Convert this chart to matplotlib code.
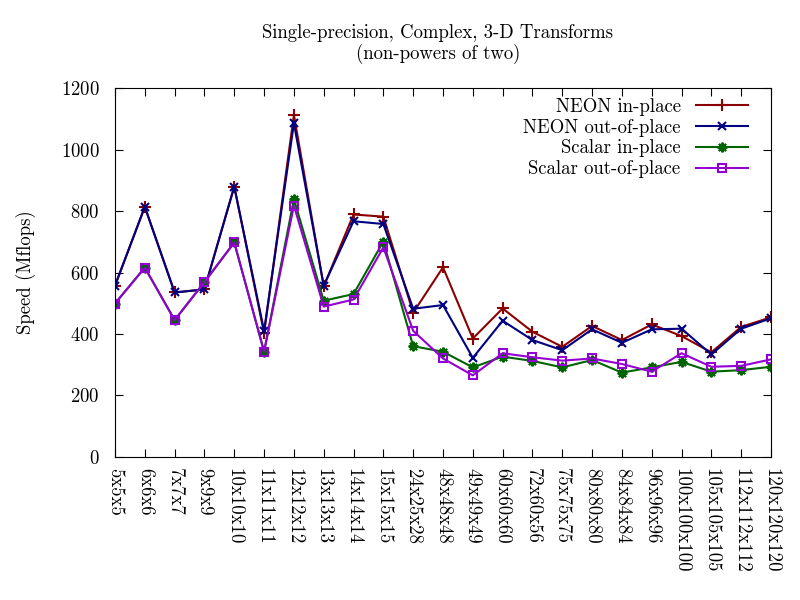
import numpy as np
import matplotlib
matplotlib.use('Agg')
import matplotlib.pyplot as plt

plt.rcParams['font.family'] = ['cmr10', 'DejaVu Serif']
plt.rcParams['axes.formatter.use_mathtext'] = True

# Data (Mflops)
sizes = ['5x5x5', '6x6x6', '7x7x7', '9x9x9', '10x10x10', '11x11x11', '12x12x12',
         '13x13x13', '14x14x14', '15x15x15', '24x25x28', '48x48x48', '49x49x49',
         '60x60x60', '72x60x56', '75x75x75', '80x80x80', '84x84x84', '96x96x96',
         '100x100x100', '105x105x105', '112x112x112', '120x120x120']
neon_in = [557, 814, 535, 545, 880, 402, 1113, 555, 789, 782, 469, 617, 385,
           483, 407, 358, 426, 380, 431, 393, 340, 423, 454]
neon_out = [557, 814, 535, 545, 880, 410, 1086, 557, 767, 758, 482, 494, 322,
            443, 380, 347, 415, 371, 415, 417, 333, 417, 451]
scalar_in = [499, 616, 445, 569, 698, 342, 839, 508, 530, 701, 360, 342, 291,
             326, 312, 291, 315, 274, 291, 309, 277, 282, 293]
scalar_out = [499, 616, 445, 569, 698, 342, 818, 489, 512, 682, 410, 320, 265,
              337, 324, 313, 320, 302, 277, 337, 293, 296, 317]

x = np.arange(len(sizes))
fs = 13.5

fig = plt.figure(figsize=(8, 6), dpi=100)
ax = fig.add_axes([0.14375, 0.2388, 0.82, 0.614])

ax.plot(x, neon_in, color='#8b0000', lw=1.5, marker='+', ms=8, mew=1.5,
        label='NEON in-place')
ax.plot(x, neon_out, color='#000080', lw=1.5, marker='x', ms=6, mew=1.5,
        label='NEON out-of-place')
ax.plot(x, scalar_in, color='#006400', lw=1.5, marker=(8, 2, 0), ms=7, mew=1.5,
        label='Scalar in-place')
ax.plot(x, scalar_out, color='#9400d3', lw=1.5, marker='s', ms=5.5, mew=1.5,
        mfc='none', label='Scalar out-of-place')

ax.set_xlim(0, len(sizes) - 1)
ax.set_ylim(0, 1200)
ax.set_yticks(np.arange(0, 1201, 200))
ax.set_xticks(x)
ax.set_xticklabels(sizes, rotation=-90, fontsize=fs)
ax.tick_params(axis='y', labelsize=fs, pad=11)
ax.tick_params(axis='x', pad=8)
ax.tick_params(direction='in', length=6, top=True, right=True)

ax.set_ylabel('Speed (Mflops)', fontsize=fs, labelpad=18)
fig.text(0.5475, 0.9267, 'Single-precision, Complex, 3-D Transforms\n(non-powers of two)',
         ha='center', va='center', fontsize=fs, linespacing=1.15)

ax.legend(loc='upper right', frameon=False, markerfirst=False, fontsize=fs,
          handlelength=2.8, handletextpad=0.8, labelspacing=0.15,
          bbox_to_anchor=(0.985, 1.01), borderaxespad=0.3)

fig.savefig('out.png', dpi=100)
